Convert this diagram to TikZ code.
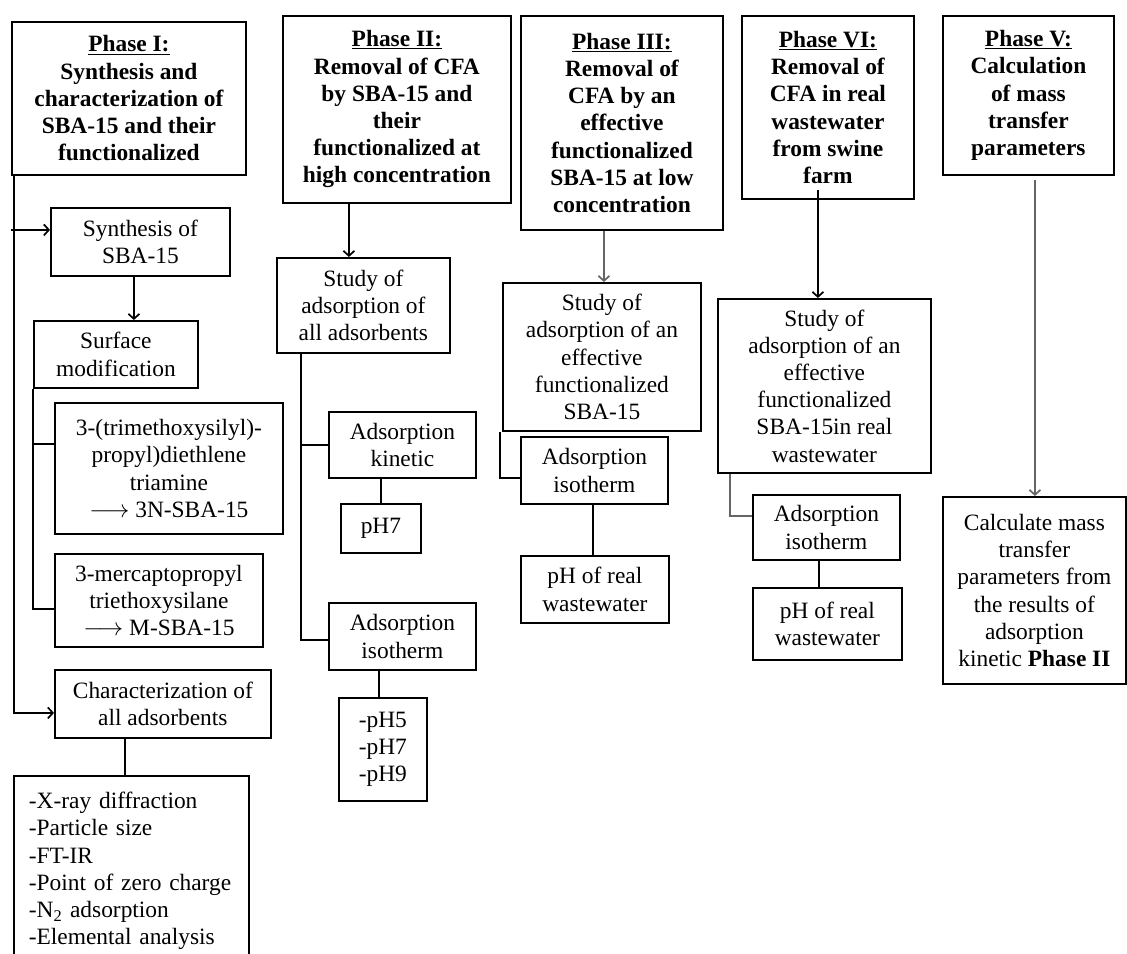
\documentclass[tikz,border=0pt]{standalone}
\usepackage{fontspec}
\setmainfont{Liberation Serif}
\usetikzlibrary{arrows.meta,calc}
\tikzset{
  box/.style={draw, line width=1.8pt, inner sep=0pt, align=center, anchor=north west,
    font=\fontsize{23.4}{27.2}\selectfont},
  hbox/.style={box, font=\fontsize{23.4}{27.2}\selectfont\bfseries},
  conn/.style={line width=1.7pt},
  arr/.style={conn, -{Straight Barb[length=5pt,width=11pt]}},
  gline/.style={draw=black!60},
}
\begin{document}
\begin{tikzpicture}[x=1pt,y=-1pt]
\useasboundingbox (0,0) rectangle (1127,953);
\clip (0,0) rectangle (1127,953);

% ---------- Phase I ----------
\node[hbox, minimum width=234pt, minimum height=153pt] (P1) at (11,21)
  {\underline{Phase I:}\\Synthesis and\\characterization of\\SBA-15 and their\\functionalized};
\node[box, minimum width=179pt, minimum height=68pt] (Syn) at (50,207) {Synthesis of\\SBA-15};
\node[box, minimum width=164pt, minimum height=67pt] (Surf) at (33,320) {Surface\\modification};
\node[box, minimum width=228pt, minimum height=131pt] (Tri) at (54,402)
  {3-(trimethoxysilyl)-\\propyl)diethlene\\triamine\\$\longrightarrow$ 3N-SBA-15};
\node[box, minimum width=208pt, minimum height=93pt] (Mer) at (54,553)
  {3-mercaptopropyl\\triethoxysilane\\$\longrightarrow$ M-SBA-15};
\node[box, minimum width=216pt, minimum height=68pt] (Char) at (54,669)
  {Characterization of\\all adsorbents};
\node[box, align=left, inner xsep=15pt, text width=205pt, minimum height=190pt] (List) at (13,775)
  {-X-ray diffraction\\-Particle size\\-FT-IR\\-Point of zero charge\\-N\textsubscript{2} adsorption\\-Elemental analysis};

\coordinate (sp1) at ($(P1.south west)+(3,0)$);
\coordinate (a1) at ($(Syn.west)+(-39,-12)$);
\draw[arr] (a1) -- (a1 -| Syn.west);
\draw[arr] (sp1) |- ($(Char.west)+(0,9)$);
\coordinate (b1) at ($(Syn.south)+(-6.5,0)$);
\draw[arr] (b1) -- (b1 |- Surf.north);
\draw[conn] (Surf.south west) |- ($(Mer.west)+(0,8.5)$);
\coordinate (tb) at ($(Tri.west)+(0,-24.5)$);
\draw[conn] (tb -| Surf.south west) -- (tb);
\coordinate (c1) at ($(Char.south)+(-38,0)$);
\draw[conn] (c1) -- (c1 |- List.north);

% ---------- Phase II ----------
\node[hbox, minimum width=228pt, minimum height=187pt] (P2) at (282,15)
  {\underline{Phase II:}\\Removal of CFA\\by SBA-15 and\\their\\functionalized at\\high concentration};
\node[box, minimum width=173pt, minimum height=95pt] (S2) at (276,257)
  {Study of\\adsorption of\\all adsorbents};
\node[box, minimum width=147pt, minimum height=66pt] (K2) at (328,411) {Adsorption\\kinetic};
\node[box, minimum width=80pt, minimum height=49pt] (pH7) at (340,503) {pH7};
\node[box, minimum width=147pt, minimum height=67pt] (I2) at (328,602) {Adsorption\\isotherm};
\node[box, minimum width=88pt, minimum height=103pt] (pHL) at (338,697) {-pH5\\-pH7\\-pH9};

\coordinate (d2) at ($(P2.south)+(-48,0)$);
\draw[arr] (d2) -- (d2 |- S2.north);
\coordinate (sp2) at ($(S2.south west)+(25,0)$);
\draw[conn] (sp2) |- ($(I2.west)+(0,3.5)$);
\draw[conn] (sp2 |- K2.west) -- (K2.west);
\coordinate (k2) at ($(K2.south)+(-21.5,0)$);
\draw[conn] (k2) -- (k2 |- pH7.north);
\coordinate (i2) at ($(I2.south)+(-23.5,0)$);
\draw[conn] (i2) -- (i2 |- pHL.north);

% ---------- Phase III ----------
\node[hbox, minimum width=202pt, minimum height=214pt] (P3) at (520,15)
  {\underline{Phase III:}\\Removal of\\CFA by an\\effective\\functionalized\\SBA-15 at low\\concentration};
\node[box, minimum width=198pt, minimum height=148pt] (S3) at (502,282)
  {Study of\\adsorption of an\\effective\\functionalized\\SBA-15};
\node[box, minimum width=147pt, minimum height=67pt] (I3) at (520,436) {Adsorption\\isotherm};
\node[box, minimum width=148pt, minimum height=67pt] (R3) at (520,555) {pH of real\\wastewater};

\coordinate (d3) at ($(P3.south)+(-18,0)$);
\draw[arr, gline] (d3) -- (d3 |- S3.north);
\draw[conn] ($(S3.south west)+(-2,0)$) |- ($(I3.west)+(0,7.5)$);
\coordinate (i3) at ($(I3.south)+(-1.5,0)$);
\draw[conn] (i3) -- (i3 |- R3.north);

% ---------- Phase VI ----------
\node[hbox, minimum width=172pt, minimum height=183pt] (P6) at (741,15)
  {\underline{Phase VI:}\\Removal of\\CFA in real\\wastewater\\from swine\\farm};
\node[box, minimum width=213pt, minimum height=174pt] (S6) at (717,298)
  {Study of\\adsorption of an\\effective\\functionalized\\SBA-15in real\\wastewater};
\node[box, minimum width=147pt, minimum height=65pt] (I6) at (752,494) {Adsorption\\isotherm};
\node[box, minimum width=149pt, minimum height=72pt] (R6) at (752,587) {pH of real\\wastewater};

\coordinate (d6) at ($(P6.south)+(-10,-10)$);
\draw[arr] (d6) -- (d6 |- S6.north);
\draw[conn, gline] ($(S6.south west)+(13,0)$) |- ($(I6.west)+(0,-11.5)$);
\coordinate (i6) at ($(I6.south)+(-7.5,0)$);
\draw[conn] (i6) -- (i6 |- R6.north);

% ---------- Phase V ----------
\node[hbox, minimum width=171pt, minimum height=159pt] (P5) at (942,15)
  {\underline{Phase V:}\\Calculation\\of mass\\transfer\\parameters};
\node[box, minimum width=183pt, minimum height=187pt] (C5) at (942,496)
  {Calculate mass\\transfer\\parameters from\\the results of\\adsorption\\kinetic \textbf{Phase II}};

\coordinate (d5) at ($(P5.south)+(6.5,4)$);
\draw[arr, gline] (d5) -- (d5 |- C5.north);
\end{tikzpicture}
\end{document}
